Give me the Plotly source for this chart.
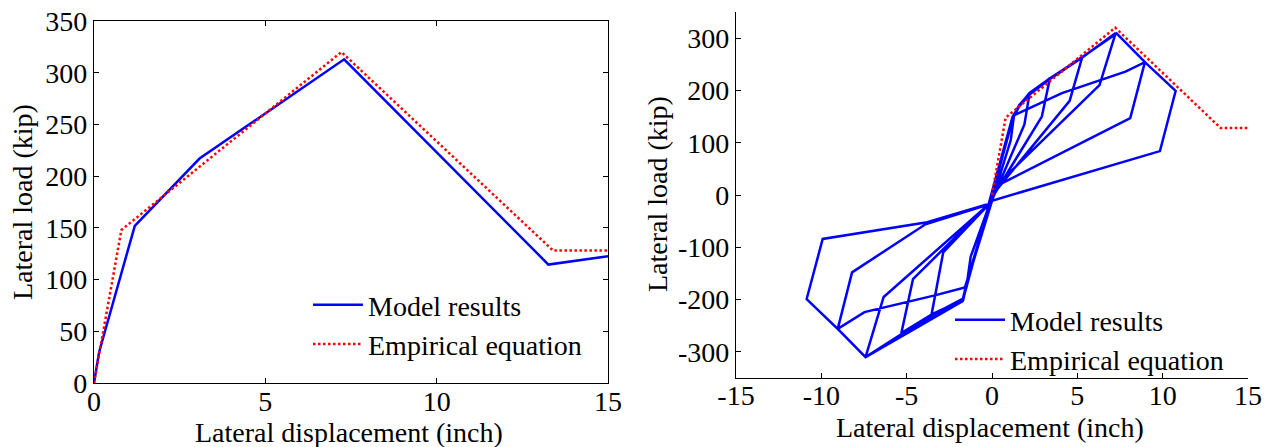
import plotly.graph_objects as go

# ---- Left panel: monotonic pushover vs. empirical backbone ----
push_disp = [0, 0.15, 1.19, 3.08, 7.30, 13.26, 15.0]
push_load = [0, 30, 152, 217, 313, 114.5, 122.5]

emp_disp = [0, 0.80, 7.22, 13.4, 15.0]
emp_load = [0, 148, 320, 128, 128]

# ---- Right panel: cyclic response (seven cycles of growing amplitude) ----
cyc_disp = [
    0,
    1.3, 1.1, 0.05, -1.45, -1.25, -0.1,
    1.2, 1.6, 2.2, 1.9, 0.05, -1.4, -1.7, -1.39, -0.1,
    1.2, 1.6, 2.2, 3.4, 2.92, 0.05, -1.45, -1.7, -3.55, -2.86, -0.1,
    1.2, 1.6, 2.2, 3.35, 5.3, 4.55, 0.08, -1.45, -1.7, -3.5, -5.31, -4.63, -0.15,
    1.2, 1.6, 2.2, 3.4, 5.25, 7.25, 6.3, 0.15, -1.45, -1.72, -3.55, -5.3, -7.41, -6.35, -0.2,
    1.2, 1.6, 2.2, 3.4, 5.3, 7.3, 8.96, 8.1, 0.08, -1.45, -1.72, -7.41, -9.04, -8.2, -3.9, -0.2,
    1.25, 4.1, 7.82, 8.96, 10.76, 9.84, 0.0, -1.59, -3.35, -7.47, -9.04, -10.86, -9.92, -3.8, -0.3,
]
cyc_load = [
    0,
    155, 105, -8, -165, -118, -14,
    145, 170, 194, 135, -6, -160, -202, -156, -15,
    147, 171, 193, 224, 150, -3, -163, -198, -230, -110, -15,
    148, 170, 192, 221, 265, 180, 2, -165, -200, -228, -264, -161, -16,
    148, 172, 194, 222, 262, 310, 210, 15, -166, -203, -232, -266, -310, -195, -18,
    149, 171, 195, 223, 264, 309, 254, 147, 14, -166, -203, -310, -256, -148, -56, -18,
    152, 195, 236, 254, 199, 84, -11, -177, -192, -224, -256, -199, -84, -52, -18,
]

left_xticks = [0, 5, 10, 15]
left_yticks = [0, 50, 100, 150, 200, 250, 300, 350]
right_xticks = [-15, -10, -5, 0, 5, 10, 15]
right_yticks = [-300, -200, -100, 0, 100, 200, 300]

W, H = 1273, 447
FONT = "Liberation Serif"
FS = 28
BLUE = "#0000FF"
RED = "#FF0000"


def labels(vals):
    # plain hyphen-minus for negative tick labels
    return [str(v) for v in vals]


fig = go.Figure()

fig.add_trace(go.Scatter(x=push_disp, y=push_load, mode="lines", name="Model results",
                         line=dict(color=BLUE, width=2.5), xaxis="x", yaxis="y", legend="legend"))
fig.add_trace(go.Scatter(x=emp_disp, y=emp_load, mode="lines", name="Empirical equation",
                         line=dict(color=RED, width=2.5, dash="2.5px,2.5px"), xaxis="x", yaxis="y",
                         legend="legend"))

fig.add_trace(go.Scatter(x=cyc_disp, y=cyc_load, mode="lines", name="Model results",
                         line=dict(color=BLUE, width=2.5), xaxis="x2", yaxis="y2", legend="legend2"))
fig.add_trace(go.Scatter(x=emp_disp, y=emp_load, mode="lines", name="Empirical equation",
                         line=dict(color=RED, width=2.5, dash="2.5px,2.5px"), xaxis="x2", yaxis="y2",
                         legend="legend2"))

axis_common = dict(showgrid=False, zeroline=False, showline=True, linecolor="black", linewidth=1.2,
                   ticks="inside", ticklen=5, tickcolor="black", tickwidth=1, automargin=False,
                   tickfont=dict(family=FONT, size=FS, color="black"))

fig.update_layout(
    width=W, height=H,
    margin=dict(l=0, r=0, t=0, b=0, pad=0),
    paper_bgcolor="white", plot_bgcolor="white",
    font=dict(family=FONT, size=FS, color="black"),
    xaxis=dict(domain=[94 / W, 608 / W], range=[0, 15], tickvals=left_xticks,
               ticktext=labels(left_xticks), mirror="ticks",
               anchor="y", ticklabelstandoff=-7, **axis_common),
    yaxis=dict(domain=[1 - 383 / H, 1 - 21 / H], range=[0, 350], tickvals=left_yticks,
               ticktext=labels(left_yticks), mirror="ticks",
               anchor="x", **axis_common),
    xaxis2=dict(domain=[736 / W, 1248 / W], range=[-15, 15], tickvals=right_xticks,
                ticktext=labels(right_xticks), mirror=False,
                anchor="y2", ticklabelstandoff=-8, **axis_common),
    yaxis2=dict(domain=[1 - 378 / H, 1 - 12 / H], range=[-350, 350], tickvals=right_yticks,
                ticktext=labels(right_yticks), mirror=False,
                anchor="x2", **axis_common),
    legend=dict(x=308 / W, y=1 - 280 / H, xanchor="left", yanchor="top", bgcolor="rgba(0,0,0,0)",
                font=dict(family=FONT, size=FS), itemwidth=50, tracegroupgap=0),
    legend2=dict(x=950 / W, y=1 - 295 / H, xanchor="left", yanchor="top", bgcolor="rgba(0,0,0,0)",
                 font=dict(family=FONT, size=FS), itemwidth=50, tracegroupgap=0),
    showlegend=True,
)

title_font = dict(family=FONT, size=FS, color="black")
title_pos = dict(xref="paper", yref="paper", xanchor="center", yanchor="middle", showarrow=False,
                 font=title_font)
fig.add_annotation(text="Lateral load (kip)", textangle=-90, x=23 / W, y=1 - 202 / H, **title_pos)
fig.add_annotation(text="Lateral displacement (inch)", x=349 / W, y=1 - 432 / H, **title_pos)
fig.add_annotation(text="Lateral load (kip)", textangle=-90, x=657 / W, y=1 - 194 / H, **title_pos)
fig.add_annotation(text="Lateral displacement (inch)", x=990 / W, y=1 - 427 / H, **title_pos)

fig.write_html("out.html")
